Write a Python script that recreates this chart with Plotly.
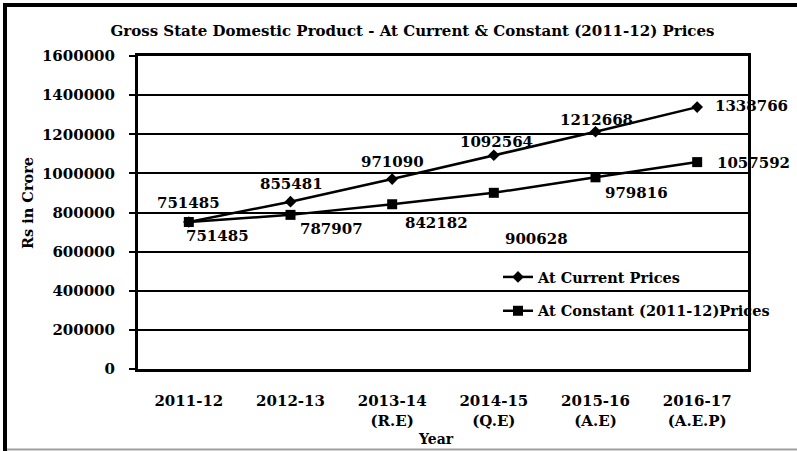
import plotly.graph_objects as go

years = ["2011-12", "2012-13", "2013-14<br>(R.E)", "2014-15<br>(Q.E)", "2015-16<br>(A.E)", "2016-17<br>(A.E.P)"]
current_prices = [751485, 855481, 971090, 1092564, 1212668, 1338766]
constant_prices = [751485, 787907, 842182, 900628, 979816, 1057592]
series_names = ["At Current Prices", "At Constant (2011-12)Prices"]

# label offsets in pixels (layout, not data)
cur_shift = [(0, 19), (1, 18), (0, 17), (3, 13), (1, 12), (54, 1)]
con_shift = [(29, -14), (41, -14), (44, -19), (43, -46), (41, -16), (56, -1)]

FONT = "DejaVu Serif"
L, R, T, B = 138, 49, 56, 82
W, H = 797, 451
pw, ph = W - L - R, H - T - B

def px_x(p):
    return (p - L) / pw

def px_y(p):
    return (H - B - p) / ph

fig = go.Figure()
fig.add_trace(go.Scatter(
    x=years, y=current_prices, name=series_names[0], mode="lines+markers",
    line=dict(color="black", width=2.5),
    marker=dict(symbol="diamond", size=9, color="black"),
    legendgroup="a",
))
fig.add_trace(go.Scatter(
    x=years, y=constant_prices, name=series_names[1], mode="lines+markers",
    line=dict(color="black", width=2.5),
    marker=dict(symbol="square", size=10, color="black"),
    legendgroup="b",
))

annos = []
for xv, yv, (dx, dy) in zip(years, current_prices, cur_shift):
    annos.append(dict(x=xv, y=yv, xref="x", yref="y", text=str(yv), showarrow=False,
                      xanchor="center", yanchor="middle",
                      xshift=dx, yshift=dy, font=dict(family=FONT, size=15, color="black", weight="bold")))
for xv, yv, (dx, dy) in zip(years, constant_prices, con_shift):
    annos.append(dict(x=xv, y=yv, xref="x", yref="y", text=str(yv), showarrow=False,
                      xanchor="center", yanchor="middle",
                      xshift=dx, yshift=dy, font=dict(family=FONT, size=15, color="black", weight="bold")))

annos.append(dict(x=px_x(27), y=px_y(203), xref="paper", yref="paper", text="Rs in Crore",
                  textangle=-90, showarrow=False, xanchor="center", yanchor="middle",
                  font=dict(family=FONT, size=14.5, color="black", weight="bold")))
annos.append(dict(x=px_x(436), y=px_y(439), xref="paper", yref="paper", text="Year",
                  showarrow=False, xanchor="center", yanchor="middle",
                  font=dict(family=FONT, size=14, color="black", weight="bold")))

shapes = [
    dict(type="line", xref="paper", yref="paper", x0=px_x(3), x1=px_x(797), y0=px_y(5), y1=px_y(5),
         line=dict(color="black", width=4), layer="above"),
    dict(type="line", xref="paper", yref="paper", x0=px_x(5), x1=px_x(5), y0=px_y(3), y1=px_y(451),
         line=dict(color="black", width=4), layer="above"),
    dict(type="line", xref="paper", yref="paper", x0=px_x(7), x1=px_x(797), y0=px_y(449.5), y1=px_y(449.5),
         line=dict(color="#a0a0a0", width=2), layer="above"),
]

fig.update_layout(
    width=W, height=H,
    margin=dict(l=L, r=R, t=T, b=B),
    paper_bgcolor="white", plot_bgcolor="white",
    title=dict(text="Gross State Domestic Product - At Current & Constant (2011-12) Prices",
               x=412.5 / W, xanchor="center", y=1 - 31 / H, yanchor="middle",
               font=dict(family=FONT, size=15, color="black", weight="bold")),
    xaxis=dict(type="category", range=[-0.5, 5.5], showgrid=False, ticks="",
               showline=True, linecolor="black", linewidth=3, mirror=True,
               ticklabelstandoff=16,
               tickfont=dict(family=FONT, size=15, color="black", weight="bold")),
    yaxis=dict(range=[0, 1600000], dtick=200000, tickformat="d",
               showgrid=True, gridcolor="black", gridwidth=2,
               showline=True, linecolor="black", linewidth=3, mirror=True,
               ticks="outside", ticklen=6, tickwidth=2, tickcolor="black",
               ticklabelstandoff=11, zeroline=False,
               tickfont=dict(family=FONT, size=15, color="black", weight="bold")),
    legend=dict(x=px_x(498), y=px_y(261), xanchor="left", yanchor="top",
                bgcolor="rgba(0,0,0,0)", tracegroupgap=12,
                font=dict(family=FONT, size=14.5, color="black", weight="bold")),
    annotations=annos,
    shapes=shapes,
)

fig.write_html("out.html", config={"displayModeBar": False},
               post_script="document.body.style.margin='0';document.body.style.overflow='hidden';")
